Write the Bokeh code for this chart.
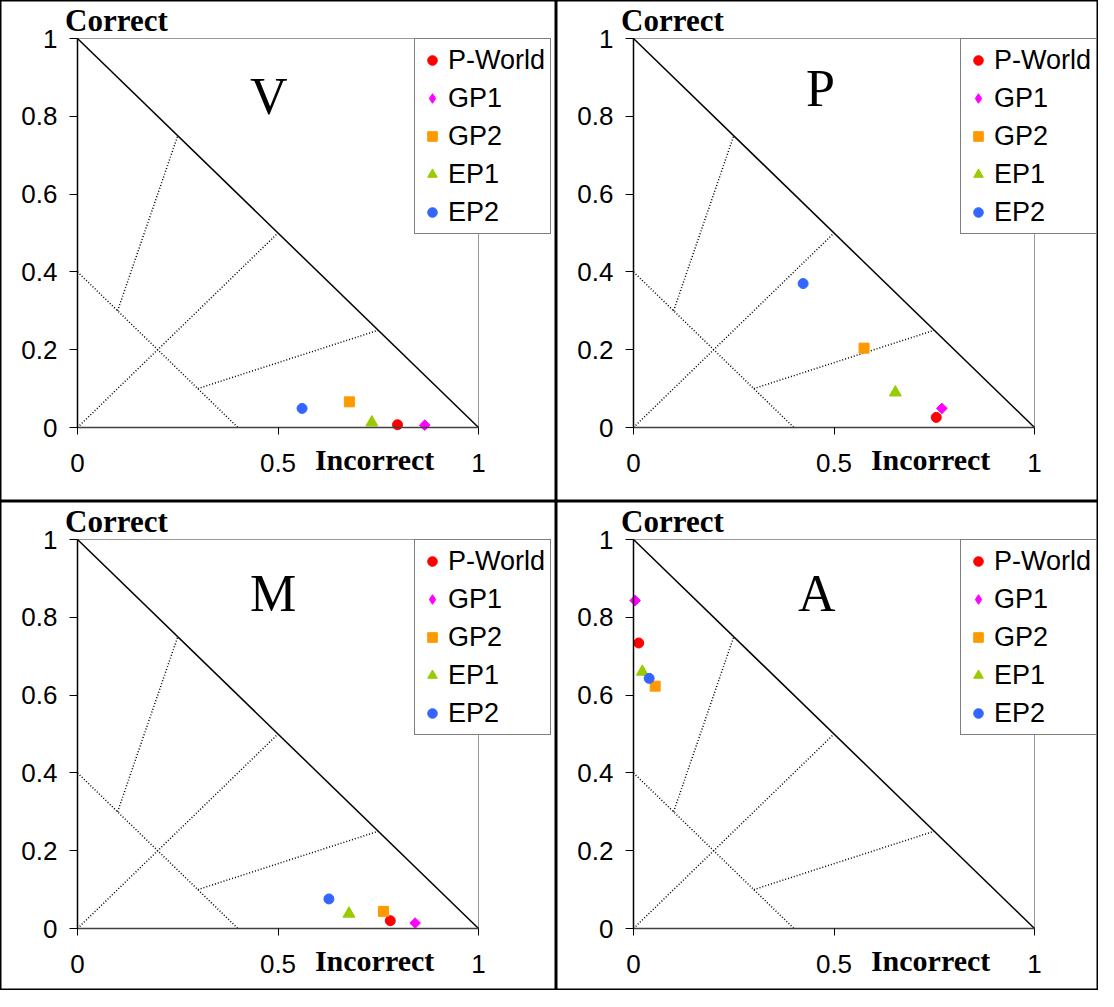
import math
from bokeh.plotting import figure
from bokeh.layouts import gridplot
from bokeh.models import Range1d, FixedTicker, Label
from bokeh.embed import file_html
from bokeh.resources import INLINE

# ---------------- data ----------------
panel_names = ["V", "P", "M", "A"]
series_names = ["P-World", "GP1", "GP2", "EP1", "EP2"]

v_incorrect = [0.798, 0.866, 0.678, 0.734, 0.560]
v_correct = [0.007, 0.006, 0.066, 0.013, 0.049]
p_incorrect = [0.755, 0.769, 0.575, 0.653, 0.423]
p_correct = [0.026, 0.049, 0.204, 0.090, 0.370]
m_incorrect = [0.780, 0.842, 0.763, 0.677, 0.627]
m_correct = [0.020, 0.014, 0.044, 0.038, 0.076]
a_incorrect = [0.013, 0.004, 0.054, 0.022, 0.039]
a_correct = [0.734, 0.843, 0.623, 0.660, 0.643]

# reference lines of the triangle
boundary_x = [0.0, 1.0]
boundary_y = [1.0, 0.0]
guide_x0 = [0.0, 0.0, 0.1, 0.3]
guide_y0 = [0.4, 0.0, 0.3, 0.1]
guide_x1 = [0.4, 0.5, 0.25, 0.75]
guide_y1 = [0.0, 0.5, 0.75, 0.25]

x_ticks = [0, 0.5, 1]
x_tick_labels = ["0", "0.5", "1"]
y_ticks = [0, 0.2, 0.4, 0.6, 0.8, 1]
y_tick_labels = ["0", "0.2", "0.4", "0.6", "0.8", "1"]
axis_span = [0, 1]

# ---------------- styles ----------------
series_colors = ["#FF0000", "#FF00FF", "#FF9900", "#99CC00", "#3366FF"]
series_markers = ["circle", "square", "square", "triangle", "circle"]
series_legend_markers = ["circle", "diamond", "square", "triangle", "circle"]
series_angles = [0, math.pi / 4, 0, 0, 0]
series_sizes = [10, 7.5, 10, 12, 10]

SANS = "Liberation Sans"
SERIF = "Liberation Serif"

W_LEFT, W_RIGHT = 556, 542
H_TOP, H_BOTTOM = 501, 489
X0_PX = 77      # pixel offset of x=0 inside a panel
Y1_PX = 38      # pixel offset of y=1 from a panel's top
PX_X = 401      # pixels per unit in x
PX_Y = 389      # pixels per unit in y
LEG_H = 196
legend_left = [414, 404, 414, 404]
letter_pos = [(0.43, 0.851), (0.43, 0.871), (0.43, 0.861), (0.41, 0.861)]

panel_data = [
    (v_incorrect, v_correct),
    (p_incorrect, p_correct),
    (m_incorrect, m_correct),
    (a_incorrect, a_correct),
]
panel_sizes = [(W_LEFT, H_TOP), (W_RIGHT, H_TOP), (W_LEFT, H_BOTTOM), (W_RIGHT, H_BOTTOM)]


def make_panel(i):
    W, H = panel_sizes[i]
    xs, ys = panel_data[i]
    p = figure(
        width=W, height=H, output_backend="svg", toolbar_location=None, title=None,
        x_range=Range1d(-X0_PX / PX_X, (W - X0_PX) / PX_X),
        y_range=Range1d(1 - (H - Y1_PX) / PX_Y, 1 + Y1_PX / PX_Y),
        min_border=0, min_border_left=0, min_border_right=0,
        min_border_top=0, min_border_bottom=0,
    )
    p.background_fill_color = "white"
    p.border_fill_color = "white"
    p.outline_line_color = "black"
    p.outline_line_width = 2
    p.xgrid.grid_line_color = None
    p.ygrid.grid_line_color = None

    # axes
    for ax, ticks, labels in ((p.xaxis[0], x_ticks, x_tick_labels), (p.yaxis[0], y_ticks, y_tick_labels)):
        ax.fixed_location = 0
        ax.bounds = (axis_span[0], axis_span[1])
        ax.ticker = FixedTicker(ticks=ticks, minor_ticks=[])
        ax.major_label_overrides = dict(zip(ticks, labels))
        ax.major_label_text_font = SANS
        ax.major_label_text_font_size = "26px"
        ax.major_label_text_color = "black"
        ax.axis_line_color = "black"
        ax.axis_line_width = 1.5
        ax.major_tick_line_color = "black"
        ax.major_tick_in = 0
        ax.minor_tick_line_color = None
    p.xaxis[0].major_tick_out = 7
    p.xaxis[0].major_label_standoff = 19
    p.xaxis[0].axis_line_color = "#404040"
    p.yaxis[0].major_tick_out = 8
    p.yaxis[0].major_label_standoff = 12

    # plot-area border (grey top and right edges)
    p.line([axis_span[0], axis_span[1], axis_span[1]], [axis_span[1], axis_span[1], axis_span[0]],
           line_color="#999999", line_width=1)

    # guide lines
    p.segment(x0=guide_x0, y0=guide_y0, x1=guide_x1, y1=guide_y1,
              line_color="black", line_width=1.5, line_dash="1 2")
    p.line(boundary_x, boundary_y, line_color="black", line_width=1.5)

    # data points
    for k, name in enumerate(series_names):
        if series_legend_markers[k] != series_markers[k]:
            # legend proxy (legend glyphs are never rotated)
            proxy = p.scatter([xs[k]], [ys[k]], marker=series_legend_markers[k], size=series_sizes[k],
                              fill_color=series_colors[k], line_color=series_colors[k],
                              legend_label=name)
            proxy.visible = False
            p.scatter([xs[k]], [ys[k]], marker=series_markers[k], size=series_sizes[k],
                      angle=series_angles[k], fill_color=series_colors[k],
                      line_color=series_colors[k])
        else:
            p.scatter([xs[k]], [ys[k]], marker=series_markers[k], size=series_sizes[k],
                      angle=series_angles[k], fill_color=series_colors[k],
                      line_color=series_colors[k], legend_label=name)

    lg = p.legend[0]
    lg.location = (legend_left[i], H - (Y1_PX + LEG_H))
    lg.margin = 0
    lg.padding = 5
    lg.spacing = 6
    lg.glyph_width = 24
    lg.glyph_height = 32
    lg.label_height = 32
    lg.label_standoff = 4
    lg.label_text_font = SANS
    lg.label_text_font_size = "27px"
    lg.label_text_color = "black"
    lg.border_line_color = "black"
    lg.border_line_width = 1
    lg.background_fill_color = "white"
    lg.background_fill_alpha = 1
    lg.inactive_fill_alpha = 0

    # axis titles and panel letter
    p.add_layout(Label(x=-0.031, y=1.047, text="Correct", text_font=SERIF,
                       text_font_style="bold", text_font_size="31px", text_color="black",
                       text_baseline="alphabetic", text_align="left"))
    p.add_layout(Label(x=0.592, y=-0.082, text="Incorrect", text_font=SERIF,
                       text_font_style="bold", text_font_size="30px", text_color="black",
                       text_baseline="alphabetic", text_align="left"))
    lx, ly = letter_pos[i]
    p.add_layout(Label(x=lx, y=ly, text=panel_names[i], text_font=SERIF, text_color="black",
                       text_font_size="52px", text_baseline="alphabetic", text_align="left"))
    return p


panels = [make_panel(i) for i in range(4)]
grid = gridplot([[panels[0], panels[1]], [panels[2], panels[3]]], toolbar_location=None)

open("out.html", "w").write(file_html(grid, INLINE))
